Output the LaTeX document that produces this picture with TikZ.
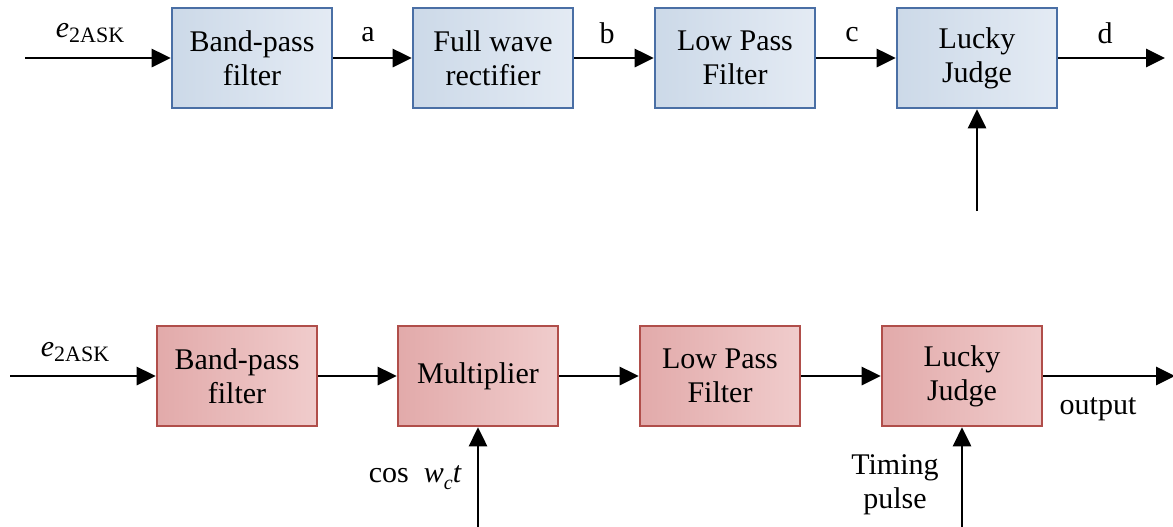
\documentclass[tikz,border=0pt]{standalone}
\usepackage{fontspec}
\setmainfont{Liberation Serif}
\usetikzlibrary{arrows.meta,positioning}
\definecolor{blueA}{HTML}{CCD9E8}
\definecolor{blueB}{HTML}{E4EBF4}
\definecolor{blueEdge}{HTML}{4A6FA5}
\definecolor{redA}{HTML}{E2AAAA}
\definecolor{redB}{HTML}{F0CCCC}
\definecolor{redEdge}{HTML}{B04E4A}
\tikzset{
  x=0.5pt, y=-0.5pt,
  blk/.style={rectangle, minimum width=80pt, minimum height=50pt, line width=1.3pt,
    align=center, font=\rmfamily\fontsize{15}{17}\selectfont, inner sep=2pt},
  blueblk/.style={blk, draw=blueEdge, left color=blueA, right color=blueB},
  redblk/.style={blk, draw=redEdge, left color=redA, right color=redB},
  sig/.style={line width=1.4pt, -{Triangle[length=9.5pt,width=9pt]}},
  lbl/.style={font=\rmfamily\fontsize{15}{17}\selectfont, inner sep=1pt}
}
\newcommand{\eask}{{\itshape e}\raisebox{-0.35ex}{\fontsize{11}{12}\selectfont 2ASK}}
\begin{document}
\begin{tikzpicture}
\useasboundingbox (0,0) rectangle (1173,526);

% envelope detection chain
\node[blueblk] (t1) at (252,58) {Band-pass\\filter};
\node[blueblk] (t2) at (493,58) {Full wave\\rectifier};
\node[blueblk] (t3) at (735,58) {Low Pass\\Filter};
\node[blueblk] (t4) at (977,58) {Lucky\\Judge};
\coordinate (tin) at (25,58);
\coordinate (tout) at (1165,58);
\coordinate (tclk) at (977,211);

\draw[sig] (tin) -- (t1);
\draw[sig] (t1) -- (t2);
\draw[sig] (t2) -- (t3);
\draw[sig] (t3) -- (t4);
\draw[sig] (t4) -- (tout);
\draw[sig] (tclk) -- (t4.south);

\node[lbl] (te) at (90,33) {\eask};
\node[lbl] (ta) at (368,35) {a};
\node[lbl] (tb) at (607,33) {b};
\node[lbl] (tc) at (852,35) {c};
\node[lbl] (td) at (1105,33) {d};

% coherent detection chain
\node[redblk] (b1) at (237,376) {Band-pass\\filter};
\node[redblk] (b2) at (478,376) {Multiplier};
\node[redblk] (b3) at (720,376) {Low Pass\\Filter};
\node[redblk] (b4) at (962,376) {Lucky\\Judge};
\coordinate (bin) at (10,376);
\coordinate (bout) at (1175,376);
\coordinate (bcar) at (478,528);
\coordinate (bclk) at (962,528);

\draw[sig] (bin) -- (b1);
\draw[sig] (b1) -- (b2);
\draw[sig] (b2) -- (b3);
\draw[sig] (b3) -- (b4);
\draw[sig] (b4) -- (bout);
\draw[sig] (bcar) -- (b2.south);
\draw[sig] (bclk) -- (b4.south);

\node[lbl] (be) at (75,352) {\eask};
\node[lbl] (bcos) at (415,478) {cos~~{\itshape w\raisebox{-0.5ex}{\fontsize{10}{11}\selectfont c}t}};
\node[lbl] (bo) at (1098,409) {output};
\node[lbl, align=center] (bt) at (895,485) {Timing\\pulse};
\end{tikzpicture}
\end{document}
